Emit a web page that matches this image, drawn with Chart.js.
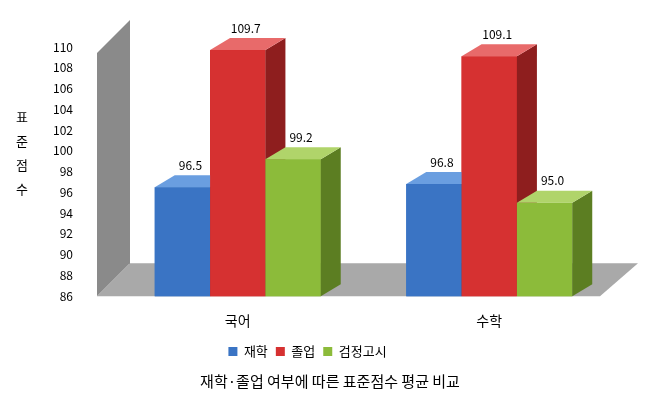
<!DOCTYPE html>
<html><head><meta charset="utf-8">
<script src="https://cdn.jsdelivr.net/npm/chart.js@4"></script>
<style>html,body{margin:0;padding:0;background:#fff}#w{width:658px;height:408px}</style>
</head><body><div id="w"><canvas id="c"></canvas></div>
<script>
const categories = ['국어', '수학'];
const seriesNames = ['재학', '졸업', '검정고시'];
const jaehak = [96.5, 96.8];
const joreop = [109.7, 109.1];
const geomjeong = [99.2, 95.0];
const yMin = 86, yMax = 110, yStep = 2;
const chartTitle = '재학·졸업 여부에 따른 표준점수 평균 비교';
const yTitle = '표준점수';
const faces = [
  {front:'#3a74c4', top:'#6a9ee0', side:'#244e8c'},
  {front:'#d63131', top:'#e86a6a', side:'#8e1e1e'},
  {front:'#8cbb3a', top:'#b0d46a', side:'#5c7e22'}
];
const FONT = "'Noto Sans CJK KR', 'Noto Sans', sans-serif";
const bdx = 20, bdy = -12, fdx = 38, fdy = -33, wallShift = 15;

const deco = {
  id:'deco',
  beforeDatasetsDraw(ch){
    const {ctx, chartArea:a} = ch;
    const L = a.left - wallShift;
    ctx.save();
    ctx.fillStyle = '#8a8a8a';
    ctx.beginPath();
    ctx.moveTo(L, a.top+6); ctx.lineTo(L+fdx-5, a.top+6+fdy);
    ctx.lineTo(L+fdx-5, a.bottom+fdy); ctx.lineTo(L, a.bottom); ctx.closePath(); ctx.fill();
    ctx.fillStyle = '#a9a9a9';
    ctx.beginPath();
    ctx.moveTo(L, a.bottom); ctx.lineTo(L+fdx-5, a.bottom+fdy);
    ctx.lineTo(a.right+fdx-15, a.bottom+fdy); ctx.lineTo(a.right-15, a.bottom); ctx.closePath(); ctx.fill();
    ctx.restore();
  },
  afterDatasetsDraw(ch){
    const {ctx, chartArea:a} = ch;
    ctx.save();
    ch.data.datasets.forEach((ds, i) => {
      const meta = ch.getDatasetMeta(i);
      meta.data.forEach((bar, j) => {
        const x0 = bar.x - bar.width/2, x1 = bar.x + bar.width/2, yt = bar.y, yb = a.bottom;
        ctx.fillStyle = faces[i].front;
        ctx.fillRect(x0, yt, x1-x0, yb-yt);
        ctx.fillStyle = faces[i].side;
        ctx.beginPath(); ctx.moveTo(x1, yt); ctx.lineTo(x1+bdx, yt+bdy); ctx.lineTo(x1+bdx, yb+bdy); ctx.lineTo(x1, yb); ctx.closePath(); ctx.fill();
        ctx.fillStyle = faces[i].top;
        ctx.beginPath(); ctx.moveTo(x0, yt); ctx.lineTo(x0+bdx, yt+bdy); ctx.lineTo(x1+bdx, yt+bdy); ctx.lineTo(x1, yt); ctx.closePath(); ctx.fill();
      });
    });
    ch.data.datasets.forEach((ds, i) => {
      ch.getDatasetMeta(i).data.forEach((bar, j) => {
        ctx.fillStyle = '#000'; ctx.font = '12px ' + FONT; ctx.textAlign = 'center'; ctx.textBaseline = 'bottom';
        ctx.fillText(ds.data[j].toFixed(1), bar.x + bdx/2 - 2, bar.y + bdy - 4);
      });
    });
    ctx.fillStyle = '#000'; ctx.textAlign = 'center'; ctx.textBaseline = 'middle';
    ctx.font = '13px ' + FONT;
    [...yTitle].forEach((c, k) => ctx.fillText(c, 22, 117 + k*24));
    ctx.font = '15px ' + FONT;
    ctx.fillText(chartTitle, 330, 381);
    ctx.restore();
  }
};

new Chart(document.getElementById('c'), {
  type:'bar',
  data:{labels:categories, datasets:[
    {label:seriesNames[0], data:jaehak, backgroundColor:faces[0].front},
    {label:seriesNames[1], data:joreop, backgroundColor:faces[1].front},
    {label:seriesNames[2], data:geomjeong, backgroundColor:faces[2].front}
  ]},
  options:{
    responsive:true, maintainAspectRatio:false, animation:false,
    layout:{padding:{top:47, right:43, bottom:40, left:0}},
    datasets:{bar:{categoryPercentage:0.66, barPercentage:1}},
    plugins:{
      legend:{position:'bottom', labels:{boxWidth:9, boxHeight:9, padding:8, color:'#000', font:{family:FONT, size:13}}},
      tooltip:{enabled:false}
    },
    scales:{
      x:{grid:{display:false}, border:{display:false}, ticks:{color:'#000', font:{family:FONT, size:14}, padding:8}},
      y:{min:yMin, max:yMax, grid:{display:false}, border:{display:false},
         ticks:{stepSize:yStep, color:'#000', font:{family:FONT, size:12}, padding:31},
         afterFit(s){ s.width = 112; }}
    }
  },
  plugins:[deco]
});
</script></body></html>
